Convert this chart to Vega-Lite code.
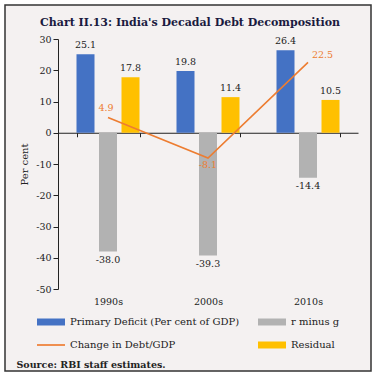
{
  "$schema": "https://vega.github.io/schema/vega-lite/v6.json",
  "width": 366,
  "height": 366,
  "padding": 5,
  "autosize": {"type": "none"},
  "background": "white",
  "config": {
    "locale": {"number": {"decimal": ".", "thousands": ",", "grouping": [3], "currency": ["$", ""], "minus": "-"}},
    "view": {"stroke": "#333333", "strokeWidth": 1.5, "fill": "#f4f1f1"},
    "font": "DejaVu Serif",
    "axis": {"labelFont": "DejaVu Serif", "labelFontSize": 9.5, "labelColor": "#222222", "domainColor": "#222222", "tickColor": "#222222", "titleFont": "DejaVu Serif", "titleColor": "#222222", "grid": false}
  },
  "title": {
    "text": "Chart II.13: India's Decadal Debt Decomposition",
    "anchor": "start", "frame": "group", "dx": 35, "offset": -23,
    "font": "DejaVu Serif", "fontSize": 11, "fontWeight": "bold", "color": "#1a1a40"
  },
  "data": {
    "values": [
      {"decade": "1990s", "series": "Primary Deficit (Per cent of GDP)", "value": 25.1},
      {"decade": "1990s", "series": "r minus g", "value": -38.0},
      {"decade": "1990s", "series": "Change in Debt/GDP", "value": 4.9},
      {"decade": "1990s", "series": "Residual", "value": 17.8},
      {"decade": "2000s", "series": "Primary Deficit (Per cent of GDP)", "value": 19.8},
      {"decade": "2000s", "series": "r minus g", "value": -39.3},
      {"decade": "2000s", "series": "Change in Debt/GDP", "value": -8.1},
      {"decade": "2000s", "series": "Residual", "value": 11.4},
      {"decade": "2010s", "series": "Primary Deficit (Per cent of GDP)", "value": 26.4},
      {"decade": "2010s", "series": "r minus g", "value": -14.4},
      {"decade": "2010s", "series": "Change in Debt/GDP", "value": 22.5},
      {"decade": "2010s", "series": "Residual", "value": 10.5}
    ]
  },
  "layer": [
    {
      "transform": [{"filter": "datum.series !== 'Change in Debt/GDP'"}],
      "mark": {"type": "bar"},
      "encoding": {
        "x": {
          "field": "decade", "type": "nominal", "sort": null,
          "scale": {"range": [53, 353], "paddingInner": 0.37, "paddingOuter": 0.185},
          "axis": {
            "orient": "bottom", "offset": -238.25, "tickBand": "extent", "tickSize": 4,
            "labelPadding": 160, "labelAngle": 0,
            "title": "Source: RBI staff estimates.",
            "titleAnchor": "start", "titleAlign": "left", "titleBaseline": "alphabetic",
            "titleX": 11, "titleY": 235, "titleFontSize": 9.5, "titleFontWeight": "bold"
          }
        },
        "xOffset": {
          "field": "series", "type": "nominal",
          "scale": {"domain": ["Primary Deficit (Per cent of GDP)", "r minus g", "Residual"], "paddingInner": 0.2, "paddingOuter": 0}
        },
        "y": {
          "field": "value", "type": "quantitative",
          "scale": {"domain": [-50, 30], "range": [284, 34], "nice": false, "zero": false},
          "axis": {
            "orient": "left", "offset": -53, "values": [-50, -40, -30, -20, -10, 0, 10, 20, 30],
            "tickSize": 5, "labelPadding": 2, "title": "Per cent", "titleFontSize": 10,
            "titleFontWeight": "normal", "titlePadding": 6
          }
        },
        "color": {
          "field": "series", "type": "nominal",
          "scale": {
            "domain": ["Primary Deficit (Per cent of GDP)", "Change in Debt/GDP", "r minus g", "Residual"],
            "range": ["#4472C4", "#ED7D31", "#B2B2B2", "#FFC000"]
          },
          "legend": {
            "orient": "none", "legendX": 32, "legendY": 303, "columns": 2,
            "columnPadding": 18, "rowPadding": 4, "title": null,
            "symbolType": "M-1,-0.25H1V0.25H-1Z", "symbolSize": 784,
            "labelFont": "DejaVu Serif", "labelFontSize": 10, "labelColor": "#222222", "labelOffset": 5, "labelLimit": 300,
            "encode": {
              "symbols": {
                "update": {
                  "shape": {"signal": "datum.value === 'Change in Debt/GDP' ? 'M-1,-0.06H1V0.06H-1Z' : 'M-1,-0.25H1V0.25H-1Z'"},
                  "fill": {"scale": "color", "field": "value"},
                  "strokeWidth": {"value": 0},
                  "opacity": {"value": 1}
                }
              }
            }
          }
        }
      }
    },
    {
      "transform": [{"filter": "datum.series === 'Change in Debt/GDP'"}],
      "mark": {"type": "line", "strokeWidth": 1.6},
      "encoding": {
        "x": {"field": "decade", "type": "nominal", "sort": null},
        "y": {"field": "value", "type": "quantitative"},
        "color": {"field": "series", "type": "nominal"}
      }
    },
    {
      "transform": [{"filter": "datum.series !== 'Change in Debt/GDP' && datum.value >= 0"}],
      "mark": {"type": "text", "baseline": "bottom", "dy": -4, "fontSize": 9.5, "color": "#222222"},
      "encoding": {
        "x": {"field": "decade", "type": "nominal", "sort": null},
        "xOffset": {"field": "series", "type": "nominal"},
        "y": {"field": "value", "type": "quantitative"},
        "text": {"field": "value", "type": "quantitative", "format": ".1f"}
      }
    },
    {
      "transform": [{"filter": "datum.series !== 'Change in Debt/GDP' && datum.value < 0"}],
      "mark": {"type": "text", "baseline": "top", "dy": 3, "fontSize": 9.5, "color": "#222222"},
      "encoding": {
        "x": {"field": "decade", "type": "nominal", "sort": null},
        "xOffset": {"field": "series", "type": "nominal"},
        "y": {"field": "value", "type": "quantitative"},
        "text": {"field": "value", "type": "quantitative", "format": ".1f"}
      }
    },
    {
      "transform": [{"filter": "datum.series === 'Change in Debt/GDP' && datum.decade === '1990s'"}],
      "mark": {"type": "text", "baseline": "bottom", "align": "center", "dx": -2, "dy": -4, "fontSize": 9.5, "color": "#ED7D31"},
      "encoding": {
        "x": {"field": "decade", "type": "nominal", "sort": null},
        "y": {"field": "value", "type": "quantitative"},
        "text": {"field": "value", "type": "quantitative", "format": ".1f"}
      }
    },
    {
      "transform": [{"filter": "datum.series === 'Change in Debt/GDP' && datum.decade === '2000s'"}],
      "mark": {"type": "text", "baseline": "top", "align": "center", "dy": 2, "fontSize": 9.5, "color": "#ED7D31"},
      "encoding": {
        "x": {"field": "decade", "type": "nominal", "sort": null},
        "y": {"field": "value", "type": "quantitative"},
        "text": {"field": "value", "type": "quantitative", "format": ".1f"}
      }
    },
    {
      "transform": [{"filter": "datum.series === 'Change in Debt/GDP' && datum.decade === '2010s'"}],
      "mark": {"type": "text", "baseline": "bottom", "align": "left", "dx": 4, "dy": -2, "fontSize": 9.5, "color": "#ED7D31"},
      "encoding": {
        "x": {"field": "decade", "type": "nominal", "sort": null},
        "y": {"field": "value", "type": "quantitative"},
        "text": {"field": "value", "type": "quantitative", "format": ".1f"}
      }
    }
  ]
}
